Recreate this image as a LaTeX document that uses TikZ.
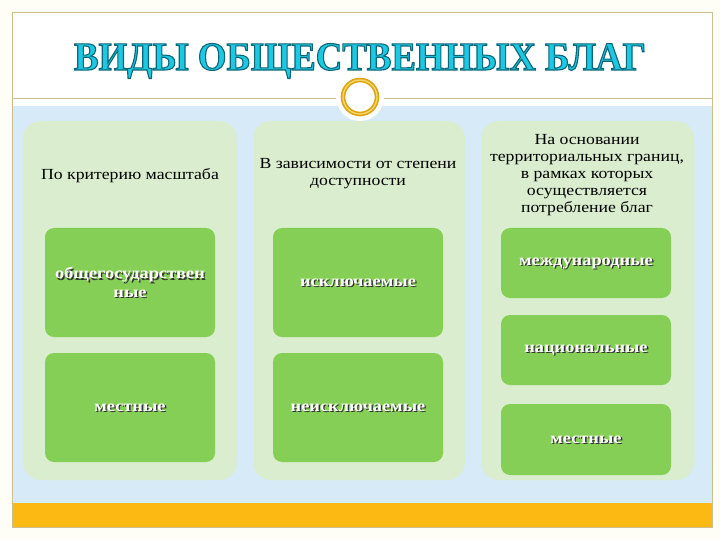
\documentclass[tikz,border=0pt]{standalone}
\usepackage{fontspec}
\setmainfont{Liberation Serif}
\newfontfamily\widefont[FakeStretch=1.15]{Liberation Serif}
\newfontfamily\titlefont[FakeStretch=0.92]{Liberation Serif}
\usetikzlibrary{positioning, shapes.geometric}
\definecolor{cream}{HTML}{FFFEF6}
\definecolor{framecol}{HTML}{CDBE8E}
\definecolor{skyblue}{HTML}{D7EAF8}
\definecolor{panelgreen}{HTML}{DAEDCF}
\definecolor{boxgreen}{HTML}{86CF56}
\definecolor{bandorange}{HTML}{FDB913}
\definecolor{ringgold}{HTML}{DDA514}
\definecolor{ringlight}{HTML}{F6D86A}
\definecolor{titlecyan}{HTML}{1CC8E2}
\tikzstyle{panel}=[fill=panelgreen, rounded corners=18pt, inner sep=0pt]
\tikzstyle{goodbox}=[fill=boxgreen, rounded corners=9pt, inner sep=0pt]
\tikzstyle{goodtext}=[text=white, align=center, font=\widefont\bfseries\fontsize{16}{18.5}\selectfont]
\tikzstyle{goodshadow}=[goodtext, text=black!80]
\tikzstyle{crit}=[align=center, font=\widefont\fontsize{15.4}{17}\selectfont]
\tikzstyle{titletext}=[anchor=base, font=\titlefont\bfseries\fontsize{40}{44}\selectfont]
% filled letters with a dark teal outline
\newcommand{\outlined}[1]{\special{pdf:literal direct 2 Tr 1.1 w 0.04 0.40 0.47 RG}#1\special{pdf:literal direct 0 Tr}}
\newcommand{\goodbox}[6]{
  \node[goodbox, minimum width=#4, minimum height=#5] (#1) at (#2, #3) {};
  \node[goodshadow] (#1s) at ([shift={(1.3, 1.3)}]#1.center) {#6};
  \node[goodtext] (#1t) at (#1.center) {#6};
}

\begin{document}
\begin{tikzpicture}[x=1pt, y=-1pt]
    \useasboundingbox (0, 0) rectangle (720, 540);
    \fill[cream] (0, 0) rectangle (720, 540);
    % frame
    \fill[white] (12, 12) rectangle (712, 106);
    \fill[skyblue] (12, 106) rectangle (712, 503);
    \fill[bandorange] (12, 503) rectangle (712, 527);
    \draw[framecol, thick] (12, 98) -- (712, 98);
    \draw[framecol] (12, 12) rectangle (712, 527);
    % title
    \node[titletext, text=titlecyan] (title) at (360, 70) {\outlined{ВИДЫ ОБЩЕСТВЕННЫХ БЛАГ}};
    % ring
    \node[circle, fill=white, minimum size=48, inner sep=0pt] (ringback) at (360, 97) {};
    \node[circle, draw=ringgold, line width=4.6pt, minimum size=34, inner sep=0pt] (ring) at (360, 97) {};
    \node[circle, draw=ringlight, line width=1.3pt, minimum size=34, inner sep=0pt] (ringshine) at (360, 97) {};
    % panels
    \node[panel, minimum width=214, minimum height=359] (scale) at (130, 300.5) {};
    \node[panel, minimum width=212, minimum height=359] (access) at (359, 300.5) {};
    \node[panel, minimum width=213, minimum height=359] (territory) at (587.5, 300.5) {};
    \node[crit] (scalehead) at (130, 176) {По критерию масштаба};
    \node[crit] (accesshead) at (358, 174) {В зависимости от степени\\доступности};
    \node[crit] (territoryhead) at (587, 175) {На основании\\территориальных границ,\\в рамках которых\\осуществляется\\потребление благ};
    % goods
    \goodbox{state}{130}{282.5}{170}{109}{общегосударствен\\ные}
    \goodbox{localA}{130}{407.5}{170}{109}{местные}
    \goodbox{excl}{358}{282.5}{170}{109}{исключаемые}
    \goodbox{nonexcl}{358}{407.5}{170}{109}{неисключаемые}
    \goodbox{intl}{586}{263}{170}{70}{международные}
    \goodbox{national}{586}{350}{170}{70}{национальные}
    \goodbox{localB}{586}{439.5}{170}{71}{местные}
\end{tikzpicture}
\end{document}
